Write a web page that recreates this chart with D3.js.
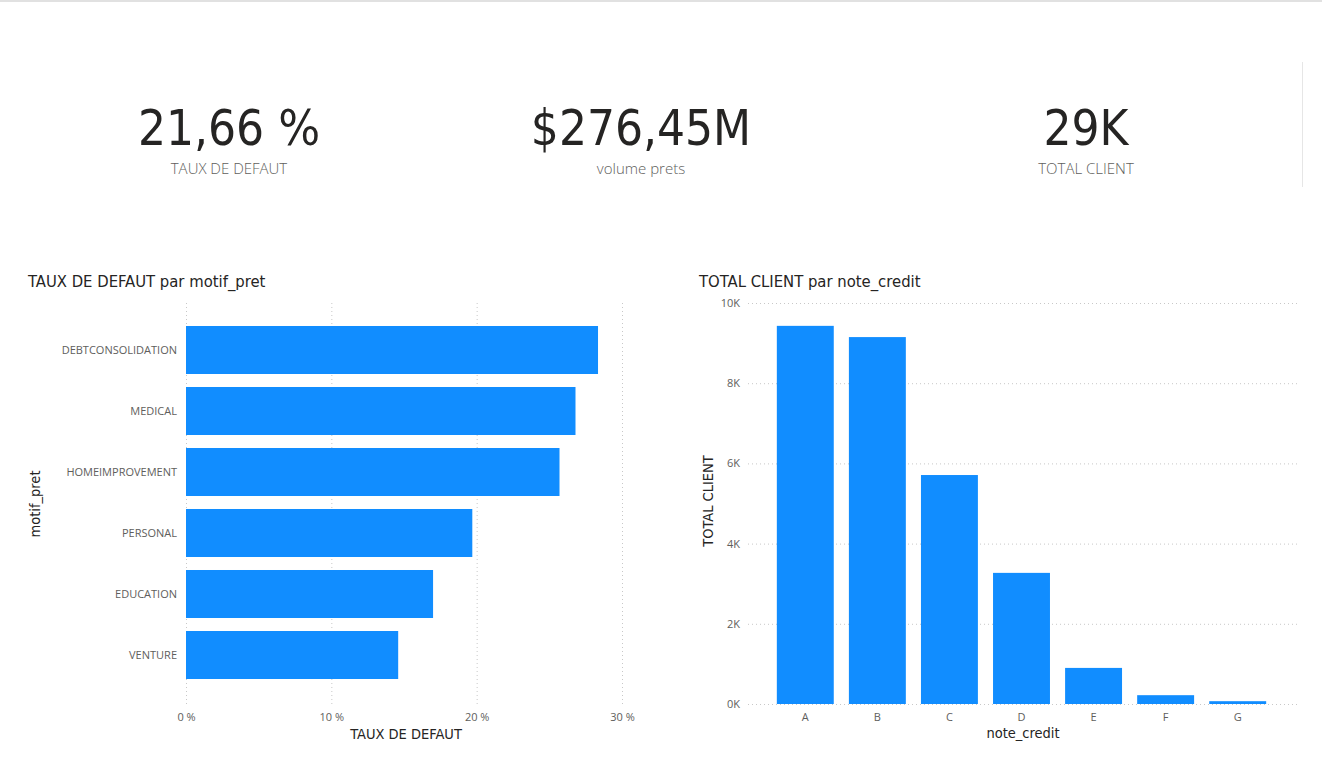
<!DOCTYPE html>
<html>
<head>
<meta charset="utf-8">
<style>
  body { margin: 0; background: #fff; }
  .kpi-value { font-family: "DejaVu Sans Condensed", "DejaVu Sans", sans-serif; fill: #252423; }
  .kpi-label { font-family: "Open Sans", "Noto Sans", sans-serif; font-weight: 300; fill: #605e5c; }
  .title { font-family: "DejaVu Sans Condensed", sans-serif; font-size: 16.5px; fill: #252423; }
  .axis-title { font-family: "DejaVu Sans Condensed", sans-serif; font-size: 14.5px; fill: #252423; }
  .tick text { font-family: "Open Sans", "Noto Sans", sans-serif; font-size: 11px; fill: #605e5c; }
  .grid line { stroke: #c8c8c8; stroke-dasharray: 1,3; }
  .bar { fill: #118DFF; }
</style>
</head>
<body>
<svg id="container" width="1322" height="769"></svg>
<script src="https://cdn.jsdelivr.net/npm/d3@7"></script>
<script>
  // KPI cards
  let kpiValues = ["21,66 %", "$276,45M", "29K"]
  let kpiLabels = ["TAUX DE DEFAUT", "volume prets", "TOTAL CLIENT"]

  // left chart: default rate by loan purpose
  let motifs = ["DEBTCONSOLIDATION", "MEDICAL", "HOMEIMPROVEMENT", "PERSONAL", "EDUCATION", "VENTURE"]
  let tauxDefaut = [0.2835, 0.268, 0.257, 0.197, 0.170, 0.146]
  let tauxTicks = [0, 0.1, 0.2, 0.3]

  // right chart: clients by credit grade
  let notes = ["A", "B", "C", "D", "E", "F", "G"]
  let totalClient = [9430, 9150, 5710, 3270, 900, 220, 70]
  let clientTicks = [0, 2000, 4000, 6000, 8000, 10000]

  let svg = d3.select("#container")

  // top border of the page
  svg.append("rect").attr("x", 0).attr("y", 0).attr("width", 1322).attr("height", 2).attr("fill", "#e1e1e1")
  svg.append("line").attr("x1", 1302.5).attr("x2", 1302.5).attr("y1", 62).attr("y2", 187)
      .attr("stroke", "#e6e6e6")

  // KPI cards
  let kpiX = [229, 641, 1086]
  kpiValues.forEach((v, i) => {
    svg.append("text").attr("class", "kpi-value")
        .attr("x", kpiX[i]).attr("y", 145)
        .attr("text-anchor", "middle")
        .style("font-size", "49px")
        .text(v)
    svg.append("text").attr("class", "kpi-label")
        .attr("x", kpiX[i]).attr("y", 174)
        .attr("text-anchor", "middle")
        .style("font-size", "15px")
        .text(kpiLabels[i])
  })

  // ---- left bar chart ----
  let xLeft = d3.scaleLinear().domain([0, 0.3]).range([186, 622])
  let yLeft = d3.scaleBand().domain(motifs).range([303, 702]).paddingInner(0.213).paddingOuter(0.377)

  svg.append("text").attr("class", "title").attr("x", 28).attr("y", 287)
      .text("TAUX DE DEFAUT par motif_pret")

  svg.append("g").attr("class", "grid")
      .call(d3.axisBottom(xLeft).tickValues(tauxTicks).tickSize(404).tickFormat(""))
      .attr("transform", "translate(0,303)")
      .call(g => g.select(".domain").remove())

  svg.append("g").selectAll("rect")
      .data(motifs)
      .join("rect")
      .attr("class", "bar")
      .attr("x", xLeft(0))
      .attr("y", d => yLeft(d))
      .attr("width", (d, i) => xLeft(tauxDefaut[i]) - xLeft(0))
      .attr("height", yLeft.bandwidth())

  svg.append("g")
      .attr("transform", "translate(186,0)")
      .call(d3.axisLeft(yLeft).tickSize(0).tickPadding(9))
      .call(g => g.select(".domain").remove())

  svg.append("g")
      .attr("transform", "translate(0,707)")
      .call(d3.axisBottom(xLeft).tickValues(tauxTicks).tickSize(0).tickPadding(6)
              .tickFormat(d => Math.round(d * 100) + " %"))
      .call(g => g.select(".domain").remove())

  svg.append("text").attr("class", "axis-title")
      .attr("x", 406).attr("y", 739).attr("text-anchor", "middle")
      .text("TAUX DE DEFAUT")
  svg.append("text").attr("class", "axis-title")
      .attr("transform", "translate(40,504) rotate(-90)").attr("text-anchor", "middle")
      .text("motif_pret")

  // ---- right column chart ----
  let xRight = d3.scaleBand().domain(notes).range([748, 1295]).paddingInner(0.21).paddingOuter(0.4)
  let yRight = d3.scaleLinear().domain([0, 10000]).range([704, 303])

  svg.append("text").attr("class", "title").attr("x", 699).attr("y", 287)
      .text("TOTAL CLIENT par note_credit")

  svg.append("g").attr("class", "grid")
      .attr("transform", "translate(748,0)")
      .call(d3.axisRight(yRight).tickValues(clientTicks).tickSize(549).tickFormat(""))
      .call(g => g.select(".domain").remove())

  svg.append("g").selectAll("rect")
      .data(notes)
      .join("rect")
      .attr("class", "bar")
      .attr("x", d => xRight(d))
      .attr("y", (d, i) => yRight(totalClient[i]))
      .attr("width", xRight.bandwidth())
      .attr("height", (d, i) => yRight(0) - yRight(totalClient[i]))

  svg.append("g")
      .attr("transform", "translate(748,0)")
      .call(d3.axisLeft(yRight).tickValues(clientTicks).tickSize(0).tickPadding(8)
              .tickFormat(d => (d / 1000) + "K"))
      .call(g => g.select(".domain").remove())

  svg.append("g")
      .attr("transform", "translate(0,707)")
      .call(d3.axisBottom(xRight).tickSize(0).tickPadding(6))
      .call(g => g.select(".domain").remove())

  svg.append("text").attr("class", "axis-title")
      .attr("x", 1023).attr("y", 738).attr("text-anchor", "middle")
      .text("note_credit")
  svg.append("text").attr("class", "axis-title")
      .attr("transform", "translate(713,501) rotate(-90)").attr("text-anchor", "middle")
      .text("TOTAL CLIENT")
</script>
</body>
</html>
